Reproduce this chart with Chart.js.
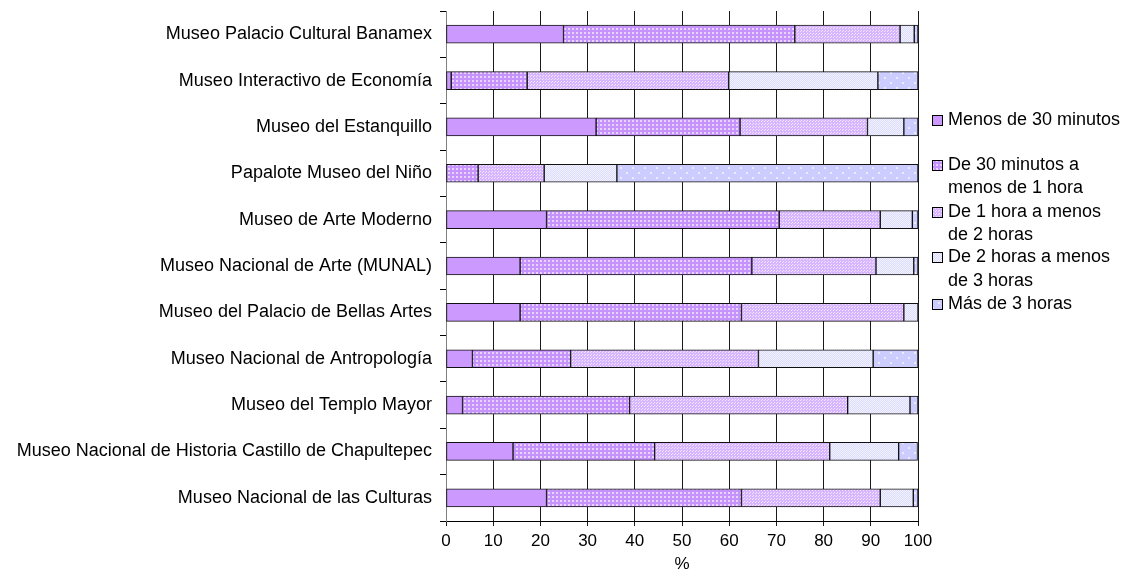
<!DOCTYPE html>
<html>
<head>
<meta charset="utf-8">
<script src="https://cdn.jsdelivr.net/npm/chart.js@4.4.1/dist/chart.umd.min.js"></script>
<style>
  html, body { margin: 0; padding: 0; background: #fff; }
  #wrap { position: relative; width: 1131px; height: 571px; }
</style>
</head>
<body>
<div id="wrap"><canvas id="c" width="1131" height="571"></canvas></div>
<script>
const categories = [
  "Museo Palacio Cultural Banamex",
  "Museo Interactivo de Economía",
  "Museo del Estanquillo",
  "Papalote Museo del Niño",
  "Museo de Arte Moderno",
  "Museo Nacional de Arte (MUNAL)",
  "Museo del Palacio de Bellas Artes",
  "Museo Nacional de Antropología",
  "Museo del Templo Mayor",
  "Museo Nacional de Historia Castillo de Chapultepec",
  "Museo Nacional de las Culturas"
];
const seriesNames = [
  "Menos de 30 minutos",
  "De 30 minutos a menos de 1 hora",
  "De 1 hora a menos de 2 horas",
  "De 2 horas a menos de 3 horas",
  "Más de 3 horas"
];
const legendLines = [
  ["Menos de 30 minutos"],
  ["De 30 minutos a", "menos de 1 hora"],
  ["De 1 hora a menos", "de 2 horas"],
  ["De 2 horas a menos", "de 3 horas"],
  ["Más de 3 horas"]
];
const menos30   = [24.9,  1.1, 31.8,  0.0, 21.3, 15.7, 15.7,  5.6,  3.5, 14.2, 21.3];
const de30a1h   = [49.0, 16.1, 30.5,  6.8, 49.3, 49.1, 46.9, 20.8, 35.4, 30.0, 41.3];
const de1a2h    = [22.3, 42.7, 27.0, 14.0, 21.4, 26.3, 34.4, 39.8, 46.2, 37.1, 29.4];
const de2a3h    = [ 3.0, 31.6,  7.7, 15.4,  6.8,  8.0,  3.0, 24.3, 13.2, 14.6,  7.0];
const mas3h     = [ 0.8,  8.5,  3.0, 63.8,  1.2,  0.9,  0.0,  9.5,  1.7,  4.0,  1.0];
const xTicks = [0,10,20,30,40,50,60,70,80,90,100];
const xTitle = "%";

const FONT = "'Liberation Sans', Arial, sans-serif";

function makePattern(w, h, base, light, dots) {
  const t = document.createElement('canvas');
  t.width = w; t.height = h;
  const g = t.getContext('2d');
  g.fillStyle = base; g.fillRect(0, 0, w, h);
  g.fillStyle = light;
  dots.forEach(d => g.fillRect(d[0], d[1], d[2] || 1, d[3] || 1));
  return g.createPattern(t, 'repeat');
}
const ctx0 = document.getElementById('c').getContext('2d');
const fills = [
  '#CC99FF',
  makePattern(4, 4, '#C593FB', '#E9D4FF', [[0,0,2,2]]),
  makePattern(3, 3, '#D8B6FF', '#F2E6FF', [[0,0],[2,1]]),
  makePattern(2, 2, '#DCDCFF', '#F2F2FF', [[0,0],[1,1]]),
  makePattern(12, 10, '#CCCCFF', '#ECECFF', [[2,2,2,2],[8,7,2,2]])
];
const allData = [menos30, de30a1h, de1a2h, de2a3h, mas3h];

const datasets = allData.map((d, i) => ({
  label: seriesNames[i],
  data: d,
  backgroundColor: fills[i],
  borderColor: '#111',
  borderWidth: 1,
  borderSkipped: false,
  barThickness: 18
}));

const legendPlugin = {
  id: 'customLegend',
  afterDraw(chart) {
    const c = chart.ctx;
    c.save();
    c.font = "18px " + FONT;
    c.fillStyle = '#000';
    c.textBaseline = 'middle';
    const ys = [[120], [165, 188], [212, 235], [257, 281], [304]];
    legendLines.forEach((lines, i) => {
      const y0 = ys[i][0];
      c.fillStyle = fills[i];
      c.fillRect(933, y0 - 4, 9, 9);
      c.strokeStyle = '#000';
      c.lineWidth = 1;
      c.strokeRect(932.5, y0 - 4.5, 10, 10);
      c.fillStyle = '#000';
      lines.forEach((t, j) => c.fillText(t, 948, ys[i][j]));
    });
    c.restore();
  }
};

new Chart(ctx0, {
  type: 'bar',
  data: { labels: categories, datasets },
  options: {
    indexAxis: 'y',
    responsive: false,
    animation: false,
    layout: { padding: { top: 11, right: 213, bottom: 0, left: 0 } },
    plugins: { legend: { display: false }, tooltip: { enabled: false } },
    scales: {
      x: {
        stacked: true,
        min: 0, max: 100,
        afterBuildTicks(s) { s.ticks = xTicks.map(v => ({ value: v })); },
        ticks: { color: '#000', font: { family: FONT, size: 17 }, padding: 5, maxRotation: 0 },
        grid: { color: '#1a1a1a', lineWidth: 1, tickLength: 5 },
        border: { color: '#000' },
        title: { display: true, text: xTitle, color: '#000', font: { family: FONT, size: 17 }, padding: { top: 4, bottom: -4 } },
        afterFit(s) { s.height = 50; }
      },
      y: {
        stacked: true,
        ticks: { color: '#000', font: { family: FONT, size: 18 }, padding: 8 },
        grid: { display: true, drawOnChartArea: false, offset: true, tickLength: 6, color: '#000' },
        border: { color: '#808080' },
        afterFit(s) { s.width = 446; s.paddingTop = 0; s.paddingBottom = 0; }
      }
    }
  },
  plugins: [legendPlugin]
});
</script>
</body>
</html>
